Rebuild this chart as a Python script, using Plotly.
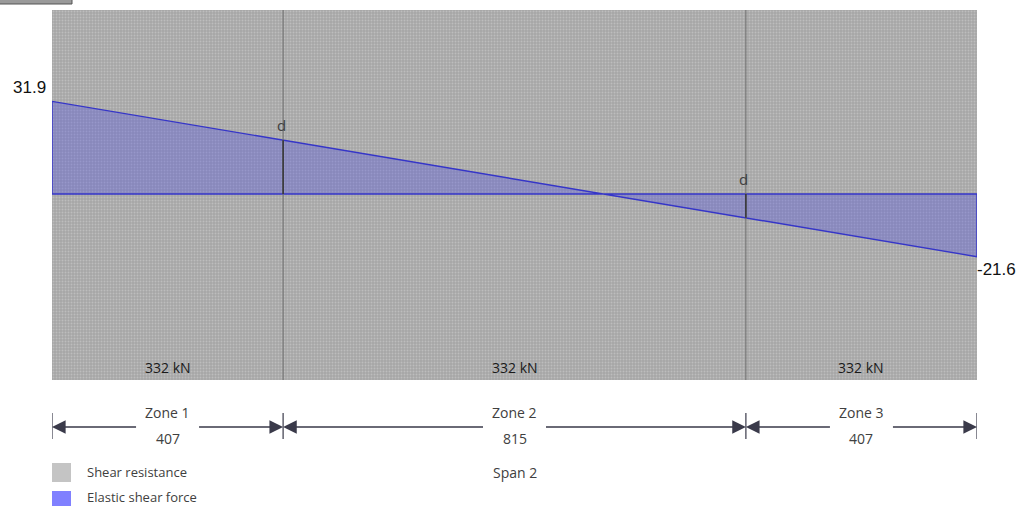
import plotly.graph_objects as go

# ---- data ----
zone_names = ["Zone 1", "Zone 2", "Zone 3"]
zone_lengths = [407, 815, 407]
shear_resistance = [332, 332, 332]          # kN per zone
elastic_shear_ends = [31.9, -21.6]          # shear at start / end of span
d_values = [18.5, -8.2]                      # elastic shear at distance d
span_label = "Span 2"
legend_labels = ["Shear resistance", "Elastic shear force"]

# ---- derived positions ----
bounds = [0]
for L in zone_lengths:
    bounds.append(bounds[-1] + L)
total = bounds[-1]
centers = [(bounds[i] + bounds[i + 1]) / 2 for i in range(len(zone_lengths))]

W, H = 1024, 506
ML, MR, MT, MB = 52, 47, 10, 126
PW = W - ML - MR
PH = H - MT - MB
ppu = PW / total

def py(pix):  # pixel y -> paper y
    return (H - MB - pix) / PH

def px(pix):  # pixel x -> paper x
    return (pix - ML) / PW

fig = go.Figure()

# shear resistance (clipped bars)
fig.add_trace(go.Bar(
    x=centers, y=[2 * v for v in shear_resistance], base=[-v for v in shear_resistance],
    width=zone_lengths,
    marker=dict(color="#aaaaaa", line=dict(width=0),
                pattern=dict(shape=".", bgcolor="#a6a6a6", fgcolor="#bdbdbd",
                             size=3, solidity=0.35, fillmode="replace")),
    showlegend=False, hoverinfo="skip", name=legend_labels[0]))

# elastic shear force polygon
fig.add_trace(go.Scatter(
    x=[0, 0, total, total, 0],
    y=[0, elastic_shear_ends[0], elastic_shear_ends[1], 0, 0],
    mode="lines", fill="toself", fillcolor="rgba(70,70,230,0.32)",
    line=dict(color="#3535c8", width=1.4), showlegend=False, hoverinfo="skip",
    name=legend_labels[1]))

shapes = []
annotations = []

# zone boundaries
for b in bounds[1:-1]:
    shapes.append(dict(type="line", xref="x", yref="paper", x0=b, x1=b, y0=0, y1=1,
                       line=dict(color="#6e6e6e", width=1)))
# d lines
for b, dv in zip(bounds[1:-1], d_values):
    shapes.append(dict(type="line", xref="x", yref="y", x0=b, x1=b, y0=0, y1=dv,
                       line=dict(color="#333333", width=1.5)))
    annotations.append(dict(x=b, y=max(dv, 0), xref="x", yref="y", text="d",
                            showarrow=False, yanchor="bottom", yshift=3, xshift=-2,
                            font=dict(family="Open Sans", size=15, color="#404040")))

# resistance labels
for c, v in zip(centers, shear_resistance):
    annotations.append(dict(x=c, y=py(367), xref="x", yref="paper", text=f"{v} kN",
                            showarrow=False, yanchor="middle", xanchor="center",
                            font=dict(family="Open Sans", size=14, color="#1a1a1a")))

# end value labels
annotations.append(dict(x=0, y=elastic_shear_ends[0], xref="paper", yref="y",
                        text=f"{elastic_shear_ends[0]}", showarrow=False, xanchor="right",
                        yanchor="middle", yshift=14, xshift=-4,
                        font=dict(family="Liberation Sans", size=17, color="#111111")))
annotations.append(dict(x=1, y=elastic_shear_ends[1], xref="paper", yref="y",
                        text=f"{elastic_shear_ends[1]}", showarrow=False, xanchor="left",
                        yanchor="middle", yshift=-13, xshift=-2,
                        font=dict(family="Liberation Sans", size=17, color="#111111")))

# dimension lines
dim_y = py(427)
dim_col = "#3a3a4a"
for b in bounds:
    shapes.append(dict(type="line", xref="x", yref="paper", x0=b, x1=b,
                       y0=py(413), y1=py(439), line=dict(color=dim_col, width=1.2)))
gap = 30
for i, (name, L) in enumerate(zip(zone_names, zone_lengths)):
    s, e, c = bounds[i], bounds[i + 1], centers[i]
    annotations.append(dict(x=s, y=dim_y, xref="x", yref="paper", text="",
                            showarrow=True, ax=(c - s) * ppu - gap, ay=0,
                            arrowhead=2, arrowsize=2.1, arrowwidth=1.3,
                            arrowcolor=dim_col, standoff=0))
    annotations.append(dict(x=e, y=dim_y, xref="x", yref="paper", text="",
                            showarrow=True, ax=-((e - c) * ppu - gap), ay=0,
                            arrowhead=2, arrowsize=2.1, arrowwidth=1.3,
                            arrowcolor=dim_col, standoff=0))
    annotations.append(dict(x=c, y=py(412), xref="x", yref="paper", text=name,
                            showarrow=False, yanchor="middle", xanchor="center",
                            font=dict(family="Open Sans", size=14, color="#404040")))
    annotations.append(dict(x=c, y=py(438), xref="x", yref="paper", text=str(L),
                            showarrow=False, yanchor="middle", xanchor="center",
                            font=dict(family="Open Sans", size=14, color="#404040")))

annotations.append(dict(x=total / 2, y=py(472), xref="x", yref="paper", text=span_label,
                        showarrow=False, yanchor="middle", xanchor="center",
                        font=dict(family="Open Sans", size=14, color="#404040")))

# manual legend
shapes.append(dict(type="rect", xref="paper", yref="paper", x0=px(52), x1=px(71),
                   y0=py(482), y1=py(463), fillcolor="#c4c4c4", line=dict(width=0)))
shapes.append(dict(type="rect", xref="paper", yref="paper", x0=px(52), x1=px(71),
                   y0=py(510), y1=py(491), fillcolor="#8080ff", line=dict(width=0)))
for lab, yy in zip(legend_labels, [472, 497]):
    annotations.append(dict(x=px(85), y=py(yy), xref="paper", yref="paper", text=lab,
                            showarrow=False, xanchor="left", yanchor="middle",
                            font=dict(family="Open Sans", size=13, color="#404040")))

# top-left strip
shapes.append(dict(type="rect", xref="paper", yref="paper", x0=px(-2), x1=px(72),
                   y0=py(4), y1=py(-3), fillcolor="#9a9a9a", line=dict(color="#555555", width=1)))

fig.update_layout(
    width=W, height=H, margin=dict(l=ML, r=MR, t=MT, b=MB),
    paper_bgcolor="white", plot_bgcolor="#aaaaaa",
    xaxis=dict(range=[0, total], visible=False, fixedrange=True),
    yaxis=dict(range=[-64.1, 63.4], visible=False, fixedrange=True),
    bargap=0, shapes=shapes, annotations=annotations, showlegend=False,
)
fig.write_html("out.html", config={"displayModeBar": False},
               post_script="document.body.style.margin='0px';document.body.style.overflow='hidden';")
